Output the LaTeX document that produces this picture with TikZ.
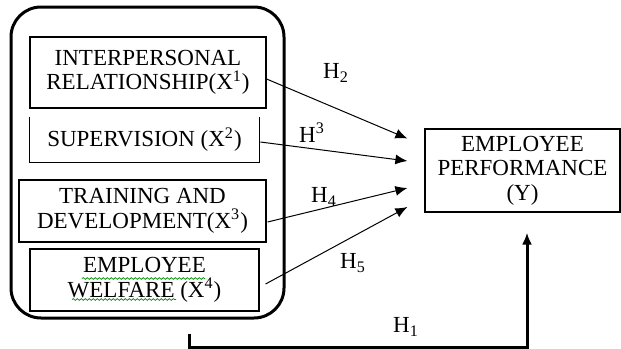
\documentclass[tikz,border=0pt]{standalone}
\usepackage{fontspec}
\setmainfont{Liberation Serif}
\usetikzlibrary{arrows.meta,calc,decorations.pathmorphing}
\tikzset{
  vbox/.style={draw, line width=0.6pt, align=center, inner sep=0pt,
    font=\fontsize{11.5}{12.2}\selectfont},
  vtext/.style={align=center, inner sep=0pt, font=\fontsize{11.5}{12.2}\selectfont},
  hyp/.style={-{Latex[length=6pt,width=5pt]}, line width=0.5pt},
  hlabel/.style={inner sep=0pt, font=\fontsize{11.5}{12}\selectfont},
  squig/.style={draw=green!55!black, line width=0.35pt, decorate,
    decoration={snake, segment length=2pt, amplitude=0.45pt}},
}
\begin{document}
\begin{tikzpicture}[x=0.5pt,y=-0.5pt]
\useasboundingbox (0,0) rectangle (621,348);
% outer group
\node[draw, line width=1.5pt, rounded corners=15pt, minimum width=136.5pt, minimum height=155.5pt, inner sep=0pt] (outer) at (147.5,162.5) {};
% inner boxes
\node[vbox, minimum width=118pt, minimum height=35.5pt] (b1) at (148,72.5) {INTERPERSONAL\\RELATIONSHIP(X\textsuperscript{1})};
\node[vtext, minimum width=114.5pt, minimum height=22.5pt] (b2) at (144.5,139.5) {SUPERVISION (X\textsuperscript{2})};
\draw[line width=0.6pt] (b2.north west) -- (b2.south west) -- (b2.south east) -- (b2.north east);
\node[vbox, minimum width=123.5pt, minimum height=31pt] (b3) at (142.5,211) {TRAINING AND\\DEVELOPMENT(X\textsuperscript{3})};
\node[vbox, minimum width=114.5pt, minimum height=31pt, fill=white] (b4) at (144.5,280) {EMPLOYEE\\WELFARE (X\textsuperscript{4})};
% spell-check squiggles
\draw[squig] (82,278.5) -- (205,278.5);
\draw[squig] (72,299.5) -- (176,299.5);
% target
\node[vbox, minimum width=97.5pt, minimum height=41.5pt] (tgt) at (522.5,170.5) {EMPLOYEE\\PERFORMANCE\\(Y)};
% arrow ends
\coordinate (t2) at ($(tgt.west)+(-8.5pt,16pt)$);
\coordinate (t3) at ($(tgt.west)+(-8.5pt,4.75pt)$);
\coordinate (t4) at ($(tgt.west)+(-8.5pt,-8.75pt)$);
\coordinate (t5) at ($(tgt.west)+(-8.5pt,-18.25pt)$);
\draw[hyp] ([yshift=-3.25pt]b1.east) -- (t2);
\draw[hyp] ([xshift=0.5pt,yshift=-1.25pt]b2.east) -- (t3);
\draw[hyp] ([xshift=0.5pt,yshift=-5.5pt]b3.east) -- (t4);
\draw[hyp] ([xshift=3pt,yshift=-2pt]b4.east) -- (t5);
% H1
\coordinate (s1) at ($(outer.south)+(20.75pt,-7pt)$);
\coordinate (c1) at ($(outer.south)+(20.75pt,-14pt)$);
\coordinate (e1) at ($(tgt.south)+(2.25pt,-10pt)$);
\draw[line width=1.5pt, -{Latex[length=6pt,width=5pt]}] (s1) -- (c1) -| (e1);
% labels
\node[hlabel] (h2) at (336,73) {H\textsubscript{2}};
\node[hlabel] (h3) at (312,133) {H\textsuperscript{3}};
\node[hlabel] (h4) at (324,197) {H\textsubscript{4}};
\node[hlabel] (h5) at (353,263) {H\textsubscript{5}};
\node[hlabel] (h1) at (406,327) {H\textsubscript{1}};
\end{tikzpicture}
\end{document}
